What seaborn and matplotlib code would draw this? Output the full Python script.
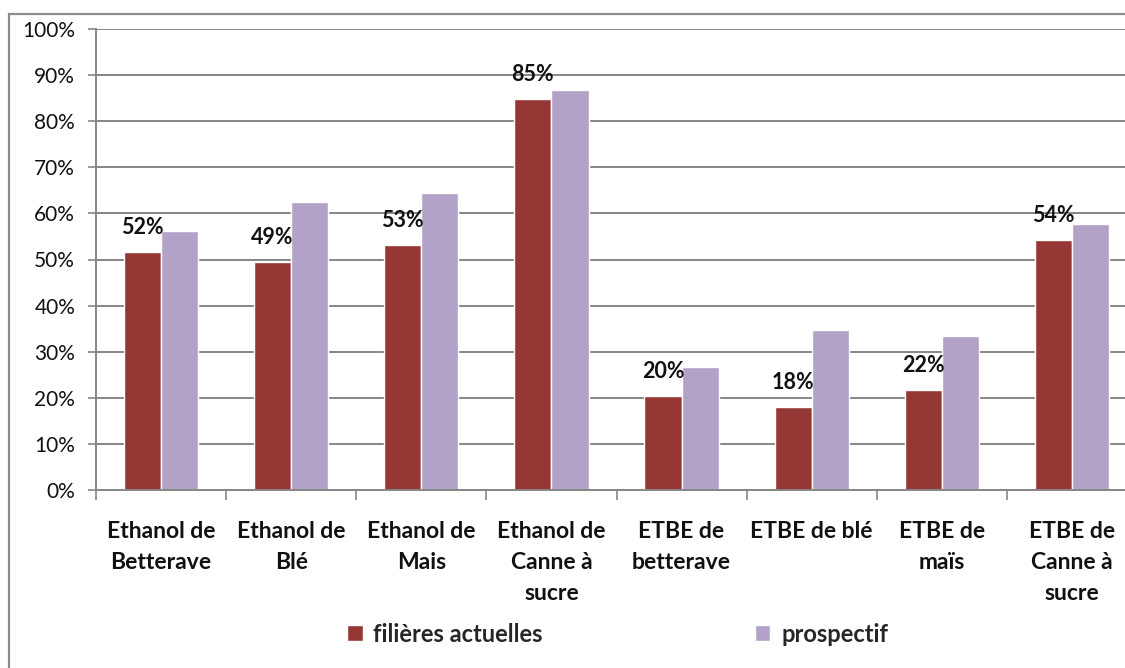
import pandas as pd
import numpy as np
import matplotlib.pyplot as plt
import matplotlib.patches as mpatches
from matplotlib.ticker import FixedLocator
import seaborn as sns

# ----------------------------------------------------------
# Data
# ----------------------------------------------------------
categories = ["Ethanol de\nBetterave", "Ethanol de\nBlé", "Ethanol de\nMais",
              "Ethanol de\nCanne à\nsucre", "ETBE de\nbetterave", "ETBE de blé",
              "ETBE de\nmaïs", "ETBE de\nCanne à\nsucre"]
actuelles = [51.6, 49.4, 53.1, 84.9, 20.4, 18.0, 21.7, 54.2]
prospectif = [56.2, 62.5, 64.4, 86.8, 26.7, 34.7, 33.4, 57.6]
series_names = ["filières actuelles", "prospectif"]
y_ticks = list(range(0, 101, 10))

df = pd.DataFrame({
    "Filière": categories * 2,
    "Valeur": actuelles + prospectif,
    "Série": [series_names[0]] * len(categories) + [series_names[1]] * len(categories),
})

# ----------------------------------------------------------
# Style
# ----------------------------------------------------------
sns.set_theme(style="white")
plt.rcParams["font.family"] = ["Lato", "DejaVu Sans"]

W, H = 1125, 668
fig = plt.figure(figsize=(W / 100, H / 100), dpi=100)

# axes placed in pixel terms (right edge runs past the image, like the reference)
left, right, bottom, top = 96, 1137, 490, 29
ax = fig.add_axes([left / W, 1 - bottom / H, (right - left) / W, (bottom - top) / H])

palette = ["#953735", "#B3A2C7"]
sns.barplot(data=df, x="Filière", y="Valeur", hue="Série", palette=palette,
            width=0.57, saturation=1, ax=ax)

ax.set_xlim(-0.5, len(categories) - 0.5)
ax.set_ylim(0, 100)
ax.set_xlabel("")
ax.set_ylabel("")

# gridlines
ax.set_axisbelow(True)
ax.yaxis.grid(True, color="#868686", linewidth=1.4)
ax.set_yticks(y_ticks)
ax.set_yticklabels([f"{t}%" for t in y_ticks], fontsize=15, color="#111111")
ax.tick_params(axis="y", length=6, width=1.2, color="#868686", pad=9, left=True)

# x ticks: labels at centres, tick marks between groups
ax.set_xticks(range(len(categories)))
ax.set_xticklabels(categories, fontsize=16.5, fontweight="bold", linespacing=1.6,
                   color="#111111")
ax.tick_params(axis="x", which="major", length=0, pad=22)
ax.xaxis.set_minor_locator(FixedLocator(np.arange(-0.5, len(categories), 1)))
ax.tick_params(axis="x", which="minor", length=7, width=1.2, color="#868686", bottom=True)

for side in ["top", "right"]:
    ax.spines[side].set_visible(False)
for side in ["left", "bottom"]:
    ax.spines[side].set_color("#868686")
    ax.spines[side].set_linewidth(1.4)

# data labels on the current values
red_bars = ax.containers[0]
for bar, v in zip(red_bars, actuelles):
    ax.annotate(f"{v:.0f}%", (bar.get_x() + bar.get_width() / 2, bar.get_height()),
                xytext=(0, 10), textcoords="offset points",
                ha="center", va="bottom", fontsize=15.5, fontweight="bold",
                color="#111111")

# legend at bottom
handles, labels = ax.get_legend_handles_labels()
ax.get_legend().remove()
fig.legend(handles, labels, loc="center", bbox_to_anchor=(0.549, 1 - 634 / H),
           ncol=2, frameon=False, prop={"size": 17, "weight": "bold"},
           handlelength=0.65, handleheight=0.65, handletextpad=0.45, columnspacing=9.0)

# outer chart border
fig.patches.append(mpatches.Rectangle((9 / W, -0.1), 1.2, 1.1 - 14 / H,
                                      transform=fig.transFigure, fill=False,
                                      edgecolor="#8c8c8c", linewidth=1.6))

fig.savefig("out.png", dpi=100)
